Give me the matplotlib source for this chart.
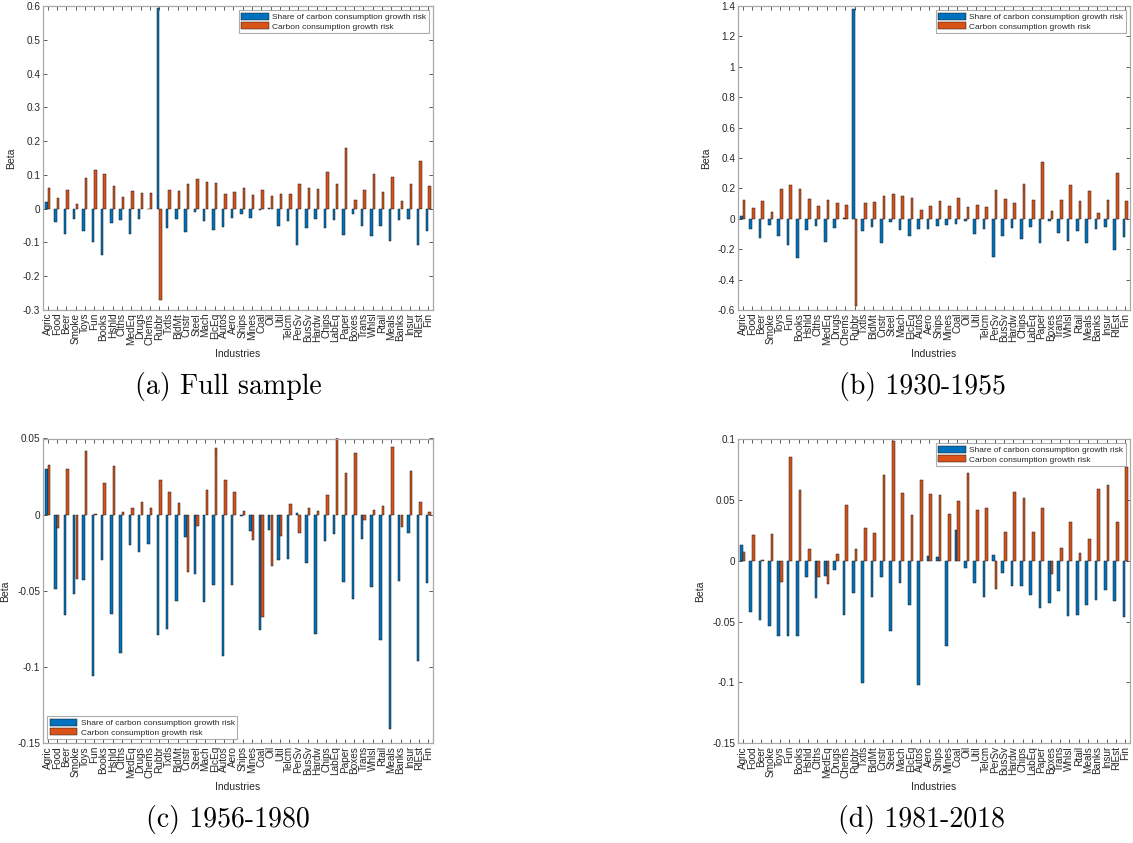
import matplotlib
matplotlib.use("Agg")
import matplotlib.pyplot as plt
import numpy as np

industries = ["Agric", "Food", "Beer", "Smoke", "Toys", "Fun", "Books", "Hshld", "Clths", "MedEq",
              "Drugs", "Chems", "Rubbr", "Txtls", "BldMt", "Cnstr", "Steel", "Mach", "ElcEq", "Autos",
              "Aero", "Ships", "Mines", "Coal", "Oil", "Util", "Telcm", "PerSv", "BusSv", "Hardw",
              "Chips", "LabEq", "Paper", "Boxes", "Trans", "Whlsl", "Rtail", "Meals", "Banks", "Insur",
              "RlEst", "Fin"]

a_share = [0.02, -0.04, -0.075, -0.03, -0.067, -0.10, -0.138, -0.042, -0.035, -0.076, -0.03, -0.002,
           0.593, -0.058, -0.032, -0.07, -0.01, -0.036, -0.064, -0.053, -0.028, -0.017, -0.027, -0.005,
           0.002, -0.05, -0.037, -0.108, -0.056, -0.032, -0.058, -0.034, -0.079, -0.016, -0.05, -0.08,
           -0.05, -0.096, -0.034, -0.03, -0.109, -0.066]
a_carbon = [0.062, 0.032, 0.056, 0.015, 0.09, 0.115, 0.103, 0.068, 0.034, 0.053, 0.047, 0.046,
            -0.27, 0.055, 0.053, 0.073, 0.089, 0.08, 0.077, 0.042, 0.05, 0.061, 0.04, 0.055,
            0.038, 0.042, 0.043, 0.074, 0.062, 0.059, 0.11, 0.074, 0.18, 0.027, 0.054, 0.104,
            0.049, 0.094, 0.024, 0.072, 0.142, 0.067]

b_share = [0.02, -0.064, -0.127, -0.04, -0.116, -0.173, -0.259, -0.075, -0.05, -0.151, -0.061, 0.006,
           1.38, -0.079, -0.055, -0.16, -0.024, -0.075, -0.112, -0.07, -0.068, -0.05, -0.044, -0.035,
           -0.015, -0.099, -0.066, -0.252, -0.11, -0.059, -0.134, -0.057, -0.162, -0.013, -0.096, -0.149,
           -0.079, -0.16, -0.068, -0.057, -0.208, -0.12]
b_carbon = [0.123, 0.07, 0.114, 0.048, 0.193, 0.224, 0.193, 0.131, 0.083, 0.123, 0.101, 0.088,
            -0.572, 0.107, 0.11, 0.151, 0.166, 0.147, 0.134, 0.059, 0.083, 0.116, 0.083, 0.136,
            0.077, 0.088, 0.079, 0.189, 0.129, 0.107, 0.226, 0.125, 0.375, 0.05, 0.125, 0.221,
            0.114, 0.18, 0.039, 0.125, 0.3, 0.12]

c_share = [0.0297, -0.049, -0.066, -0.052, -0.043, -0.106, -0.0295, -0.065, -0.0906, -0.02, -0.0245, -0.019,
           -0.079, -0.075, -0.0563, -0.0144, -0.0389, -0.0574, -0.0459, -0.0924, -0.0463, -0.001, -0.011, -0.0758,
           -0.0098, -0.0297, -0.0293, 0.001, -0.0319, -0.078, -0.0172, -0.0124, -0.0439, -0.0552, -0.0157, -0.0476,
           -0.0819, -0.1406, -0.0434, -0.0122, -0.096, -0.045]
c_carbon = [0.0328, -0.0085, 0.030, -0.042, 0.042, 0.0003, 0.021, 0.032, 0.0015, 0.0046, 0.0083, 0.0041,
            0.0229, 0.0148, 0.0076, -0.0378, -0.0076, 0.016, 0.0435, 0.0225, 0.0146, 0.0026, -0.0164, -0.0672,
            -0.0338, -0.0142, 0.007, -0.0122, 0.0041, 0.0024, 0.013, 0.052, 0.0273, 0.0408, -0.0035, 0.0028,
            0.0055, 0.0443, -0.0083, 0.0284, 0.0085, 0.0015]

d_share = [0.013, -0.042, -0.049, -0.054, -0.062, -0.062, -0.0615, -0.0137, -0.0306, -0.0126, -0.0074, -0.0448,
           -0.0265, -0.1005, -0.030, -0.013, -0.0577, -0.018, -0.036, -0.1025, 0.0036, 0.0033, -0.070, 0.0249,
           -0.0063, -0.018, -0.0298, 0.0046, -0.0098, -0.0208, -0.021, -0.0279, -0.0388, -0.0347, -0.0246, -0.0454,
           -0.0448, -0.0366, -0.032, -0.0238, -0.0328, -0.0462]
d_carbon = [0.007, 0.0213, 0.0003, 0.022, -0.0175, 0.0855, 0.0585, 0.0093, -0.0134, -0.019, 0.0052, 0.0454,
            0.0098, 0.0265, 0.0227, 0.0705, 0.0984, 0.0555, 0.0377, 0.066, 0.0552, 0.054, 0.0383, 0.0492,
            0.0721, 0.042, 0.0434, -0.0232, 0.0235, 0.0566, 0.0516, 0.0232, 0.0434, -0.011, 0.0104, 0.0322,
            0.0066, 0.0175, 0.059, 0.0626, 0.0314, 0.0768]

captions = ["(a) Full sample", "(b) 1930-1955", "(c) 1956-1980", "(d) 1981-2018"]
series_names = ["Share of carbon consumption growth risk", "Carbon consumption growth risk"]

yticks_a = [-0.3, -0.2, -0.1, 0, 0.1, 0.2, 0.3, 0.4, 0.5, 0.6]
yticks_b = [-0.6, -0.4, -0.2, 0, 0.2, 0.4, 0.6, 0.8, 1.0, 1.2, 1.4]
yticks_c = [-0.15, -0.1, -0.05, 0, 0.05]
yticks_d = [-0.15, -0.1, -0.05, 0, 0.05, 0.1]

BLUE = "#0072BD"
ORANGE = "#D95319"
W, H = 1133, 843

plt.rcParams['font.family'] = ['Liberation Sans', 'DejaVu Sans']

fig = plt.figure(figsize=(W / 100, H / 100), dpi=100)

def fmt(v):
    if abs(v) < 1e-12:
        return "0"
    s = ("%.2f" % v).rstrip("0").rstrip(".")
    return s

def make_panel(px, shares, carbons, yticks, legend_loc, caption, cap_xy):
    left, top, right, bottom = px
    ax = fig.add_axes([left / W, 1 - bottom / H, (right - left) / W, (bottom - top) / H])
    x = np.arange(1, len(industries) + 1)
    bw = 0.27
    off = 0.14
    ax.bar(x - off, shares, width=bw, color=BLUE, edgecolor="#1a1a1a", linewidth=0.35,
           label=series_names[0], zorder=2)
    ax.bar(x + off, carbons, width=bw, color=ORANGE, edgecolor="#1a1a1a", linewidth=0.35,
           label=series_names[1], zorder=2)
    ax.set_xlim(0.5, len(industries) + 0.5)
    ax.set_ylim(yticks[0], yticks[-1])
    ax.set_xticks(x)
    ax.set_xticklabels(industries, rotation=90, fontsize=7.2, color="#262626")
    ax.set_yticks(yticks)
    ax.set_yticklabels([fmt(v) for v in yticks], fontsize=7.2, color="#262626")
    ax.tick_params(direction="in", length=3, width=0.6, color="#404040",
                   top=True, right=True, pad=2)
    for s in ax.spines.values():
        s.set_color("#a8a8a8")
        s.set_linewidth(0.9)
    ax.set_ylabel("Beta", fontsize=7.5, color="#262626", labelpad=5)
    ax.set_xlabel("Industries", fontsize=7.5, color="#262626", labelpad=3)
    leg = ax.legend(loc=legend_loc, fontsize=6, frameon=True, fancybox=False,
                    handlelength=3.3, handleheight=0.9, handletextpad=0.45,
                    borderpad=0.3, labelspacing=0.15, borderaxespad=0.5)
    leg.get_frame().set_edgecolor("#999999")
    leg.get_frame().set_linewidth(0.8)
    for t in leg.get_texts():
        t.set_color("#262626")
    fig.text(cap_xy[0] / W, 1 - cap_xy[1] / H, caption, fontsize=20,
             fontname="cmr10", ha="center", va="center", color="black")
    return ax

make_panel((43, 6, 433, 310), a_share, a_carbon, yticks_a, "upper right", captions[0], (228, 387))
make_panel((738, 6, 1130, 310), b_share, b_carbon, yticks_b, "upper right", captions[1], (922, 387))
make_panel((43, 438.5, 433, 743.3), c_share, c_carbon, yticks_c, "lower left", captions[2], (228, 820))
make_panel((738, 439, 1130, 743.3), d_share, d_carbon, yticks_d, "upper right", captions[3], (922, 820))

fig.savefig("out.png", dpi=100)
